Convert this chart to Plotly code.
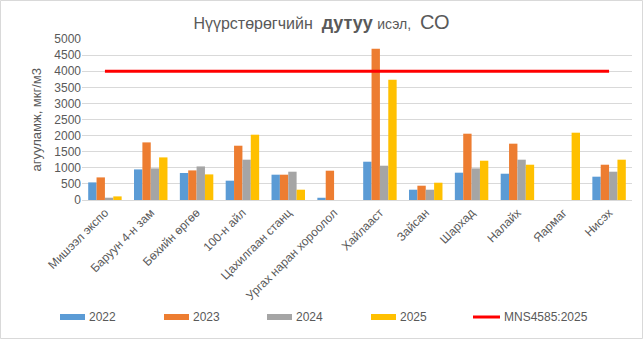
import plotly.graph_objects as go

# Monitoring stations
stations = [
    "Мишээл экспо", "Баруун 4-н зам", "Бөхийн өргөө", "100-н айл",
    "Цахилгаан станц", "Ургах наран хороолол", "Хайлааст", "Зайсан",
    "Шархад", "Налайх", "Яармаг", "Нисэх",
]

# Annual mean CO concentration, µg/m3
co_2022 = [547, 950, 838, 600, 786, 70, 1189, 320, 848, 816, None, 724]
co_2023 = [702, 1789, 919, 1686, 786, 910, 4699, 444, 2059, 1749, None, 1096]
co_2024 = [71, 981, 1043, 1252, 879, None, 1065, 320, 981, 1252, None, 879]
co_2025 = [112, 1323, 795, 2028, 320, None, 3736, 537, 1220, 1096, 2090, 1252]

# Standard limit MNS4585:2025
standard_limit = [4000] * len(stations)
limit_name = "MNS4585:2025"

years = ["2022", "2023", "2024", "2025"]
series = [co_2022, co_2023, co_2024, co_2025]
colors = ["#5B9BD5", "#ED7D31", "#A5A5A5", "#FFC000"]
limit_color = "#FF0000"

fig = go.Figure()
for name, vals, col in zip(years, series, colors):
    fig.add_trace(go.Bar(x=stations, y=vals, name=name, marker_color=col,
                         marker_line_width=0, showlegend=False))

fig.add_trace(go.Scatter(x=stations, y=standard_limit, mode="lines",
                         name=limit_name, showlegend=False,
                         line=dict(color=limit_color, width=3)))

W, H = 643, 339
ml, mr, mt, mb = 82, 11, 39, 139
pw, ph = W - ml - mr, H - mt - mb


def px_x(px):
    return (px - ml) / pw


def px_y(py):
    return (H - mb - py) / ph


fig.update_layout(
    width=W, height=H,
    margin=dict(l=ml, r=mr, t=mt, b=mb, autoexpand=False),
    paper_bgcolor="white", plot_bgcolor="white",
    font=dict(family="Liberation Sans, Arial, sans-serif", color="#595959", size=12),
    barmode="group", bargap=0.27, bargroupgap=0,
    showlegend=False,
    title=dict(
        text="Нүүрстөрөгчийн&nbsp;&nbsp;<b><span style='font-size:18px'>дутуу</span></b>"
             "&nbsp;<span style='font-size:14px'>исэл,</span>&nbsp;&nbsp;"
             "<span style='font-size:20px'>СО</span>",
        x=0.5, xanchor="center", xref="container", y=1 - 23 / H, yanchor="middle",
        font=dict(size=16, color="#595959"),
    ),
    xaxis=dict(
        tickangle=-45, showgrid=False, showline=True, linecolor="#D9D9D9",
        linewidth=1, ticks="", automargin=False,
        tickfont=dict(size=12, color="#595959"),
    ),
    yaxis=dict(
        range=[0, 5000], dtick=500, showgrid=True, gridcolor="#D9D9D9",
        gridwidth=1, zeroline=False, showline=False, ticks="", automargin=False,
        tickfont=dict(size=12, color="#595959"),
    ),
)

# Value axis title
fig.add_annotation(x=px_x(36), y=0.5, xref="paper", yref="paper",
                   text="агууламж, мкг/м3", textangle=-90, showarrow=False,
                   xanchor="center", yanchor="middle",
                   font=dict(size=13, color="#595959"))

# Legend row drawn below the category labels
legend_y = 317
swatch_x = [60, 164, 267, 371]
for x0, name, col in zip(swatch_x, years, colors):
    fig.add_shape(type="rect", xref="paper", yref="paper",
                  x0=px_x(x0), x1=px_x(x0 + 25),
                  y0=px_y(legend_y + 3), y1=px_y(legend_y - 3),
                  line=dict(width=0), fillcolor=col)
    fig.add_annotation(x=px_x(x0 + 27), y=px_y(legend_y), xref="paper", yref="paper",
                       text=name, showarrow=False, xanchor="left", yanchor="middle",
                       font=dict(size=12, color="#595959"))
fig.add_shape(type="line", xref="paper", yref="paper",
              x0=px_x(473), x1=px_x(500), y0=px_y(legend_y), y1=px_y(legend_y),
              line=dict(color=limit_color, width=3))
fig.add_annotation(x=px_x(502), y=px_y(legend_y), xref="paper", yref="paper",
                   text=limit_name, showarrow=False, xanchor="left", yanchor="middle",
                   font=dict(size=12, color="#595959"))

# Outer chart frame
fig.add_shape(type="rect", xref="paper", yref="paper",
              x0=px_x(0.5), x1=px_x(W - 0.5),
              y0=px_y(H - 0.5), y1=px_y(0.5),
              line=dict(color="#D9D9D9", width=1), fillcolor="rgba(0,0,0,0)",
              layer="below")

fig.write_html("out.html")
